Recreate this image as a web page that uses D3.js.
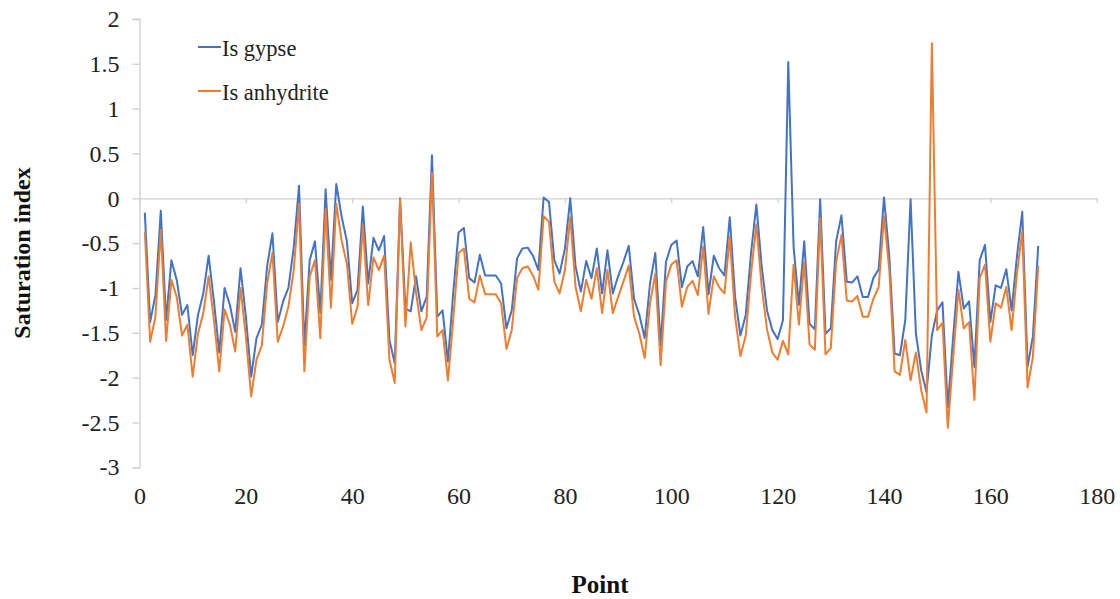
<!DOCTYPE html>
<html>
<head>
<meta charset="utf-8">
<script src="https://cdn.jsdelivr.net/npm/d3@7"></script>
<style>
  html, body { margin: 0; padding: 0; background: #fff; }
  svg { display: block; }
  svg text { font-family: "Liberation Serif", "Times New Roman", "DejaVu Serif", serif !important; }
</style>
</head>
<body>
<svg id="chart" width="1120" height="599"></svg>
<script>
// Sample points 1..169
const points = d3.range(1, 170);

// Saturation index of gypsum
const isGypse = [
  -0.16, -1.38, -1.08, -0.14, -1.36, -0.69, -0.91, -1.30, -1.19, -1.75,
  -1.30, -1.06, -0.64, -1.15, -1.72, -1.00, -1.19, -1.49, -0.78, -1.32,
  -1.99, -1.56, -1.41, -0.76, -0.39, -1.38, -1.15, -1.00, -0.55, 0.14,
  -1.64, -0.69, -0.48, -1.28, 0.10, -0.91, 0.16, -0.20, -0.48, -1.17,
  -1.02, -0.09, -0.95, -0.44, -0.58, -0.42, -1.58, -1.84, 0.00, -1.23,
  -1.26, -0.87, -1.26, -1.10, 0.48, -1.32, -1.25, -1.82, -1.05, -0.38,
  -0.33, -0.89, -0.94, -0.63, -0.86, -0.86, -0.86, -0.95, -1.45, -1.25,
  -0.67, -0.56, -0.55, -0.64, -0.80, 0.01, -0.04, -0.69, -0.84, -0.56,
  0.00, -0.76, -1.04, -0.70, -0.89, -0.56, -1.06, -0.58, -1.06, -0.87,
  -0.71, -0.53, -1.12, -1.30, -1.56, -0.95, -0.61, -1.64, -0.71, -0.52,
  -0.47, -0.99, -0.76, -0.70, -0.87, -0.32, -1.07, -0.64, -0.78, -0.86,
  -0.21, -1.10, -1.53, -1.30, -0.61, -0.07, -0.76, -1.25, -1.47, -1.57,
  -1.36, 1.52, -0.54, -1.19, -0.48, -1.40, -1.46, -0.01, -1.51, -1.45,
  -0.48, -0.19, -0.93, -0.94, -0.87, -1.10, -1.10, -0.89, -0.79, 0.01,
  -0.65, -1.73, -1.75, -1.36, -0.01, -1.51, -1.92, -2.16, -1.53, -1.25,
  -1.16, -2.33, -1.55, -0.82, -1.23, -1.15, -1.88, -0.69, -0.52, -1.38,
  -0.97, -1.00, -0.79, -1.25, -0.65, -0.15, -1.88, -1.54, -0.53
];

// Saturation index of anhydrite
const isAnhydrite = [
  -0.37, -1.60, -1.32, -0.35, -1.59, -0.91, -1.10, -1.53, -1.41, -1.99,
  -1.51, -1.28, -0.87, -1.36, -1.93, -1.24, -1.41, -1.71, -1.00, -1.54,
  -2.21, -1.80, -1.64, -0.95, -0.61, -1.60, -1.43, -1.21, -0.80, -0.06,
  -1.93, -0.87, -0.69, -1.56, -0.12, -1.22, -0.06, -0.47, -0.73, -1.40,
  -1.21, -0.30, -1.19, -0.66, -0.80, -0.64, -1.80, -2.06, -0.01, -1.43,
  -0.49, -1.05, -1.47, -1.33, 0.28, -1.54, -1.47, -2.03, -1.35, -0.61,
  -0.56, -1.12, -1.16, -0.86, -1.07, -1.07, -1.07, -1.17, -1.68, -1.47,
  -0.89, -0.78, -0.76, -0.86, -1.02, -0.20, -0.26, -0.93, -1.06, -0.80,
  -0.21, -0.99, -1.26, -0.91, -1.12, -0.78, -1.28, -0.80, -1.28, -1.10,
  -0.93, -0.75, -1.32, -1.51, -1.78, -1.17, -0.84, -1.86, -0.93, -0.74,
  -0.69, -1.21, -0.99, -0.92, -1.08, -0.54, -1.29, -0.87, -0.99, -1.06,
  -0.43, -1.32, -1.76, -1.53, -0.84, -0.29, -0.99, -1.46, -1.72, -1.80,
  -1.59, -1.74, -0.74, -1.41, -0.71, -1.63, -1.69, -0.22, -1.74, -1.67,
  -0.71, -0.41, -1.14, -1.15, -1.09, -1.32, -1.32, -1.12, -0.99, -0.20,
  -0.80, -1.93, -1.97, -1.58, -2.03, -1.72, -2.14, -2.39, 1.73, -1.47,
  -1.39, -2.56, -1.78, -1.02, -1.45, -1.38, -2.25, -0.89, -0.74, -1.60,
  -1.17, -1.22, -0.99, -1.47, -0.84, -0.37, -2.11, -1.77, -0.75
];

const seriesNames = ["Is gypse", "Is anhydrite"];
const seriesColors = ["#4472C4", "#ED7D31"];
const xTicks = d3.range(0, 181, 20);
const yTicks = d3.range(-3, 2.01, 0.5);

const svg = d3.select("#chart");
const axisColor = "#d0d0d0";
const serif = "'Liberation Serif', 'Times New Roman', 'DejaVu Serif', serif";

const x = d3.scaleLinear().domain([0, 180]).range([139.5, 1096.7]);
const y = d3.scaleLinear().domain([-3, 2]).range([467.3, 19]);

// Vertical value axis with ticks on the left
const yAxis = svg.append("g")
  .attr("transform", `translate(${x(0)},0)`)
  .call(d3.axisLeft(y).tickValues(yTicks).tickSize(7).tickPadding(13)
    .tickFormat(d => String(+d.toFixed(1))));
yAxis.attr("font-family", null).attr("font-size", null);
yAxis.selectAll("path, line").attr("stroke", axisColor).attr("stroke-width", 1.3);
yAxis.selectAll("text").style("font-size", "24px").style("font-family", serif).attr("fill", "#222");

// Horizontal axis line crossing at zero, ticks pointing down
const xLine = svg.append("g")
  .attr("transform", `translate(0,${y(0)})`)
  .call(d3.axisBottom(x).tickValues(xTicks).tickSize(5).tickSizeOuter(0).tickFormat(""));
xLine.selectAll("path, line").attr("stroke", axisColor).attr("stroke-width", 1.3);

// Category labels placed below the plot
const xLabels = svg.append("g")
  .attr("transform", `translate(0,${y(-3)})`)
  .call(d3.axisBottom(x).tickValues(xTicks).tickSize(0).tickPadding(20));
xLabels.attr("font-family", null).attr("font-size", null);
xLabels.select(".domain").remove();
xLabels.selectAll("text").style("font-size", "24px").style("font-family", serif).attr("fill", "#222");

// Series lines
const line = d3.line()
  .x(d => x(d[0]))
  .y(d => y(d[1]));

[isGypse, isAnhydrite].forEach((vals, k) => {
  svg.append("path")
    .datum(points.map((p, i) => [p, vals[i]]))
    .attr("fill", "none")
    .attr("stroke", seriesColors[k])
    .attr("stroke-width", 2)
    .attr("stroke-linejoin", "round")
    .attr("d", line);
});

// Legend
const legend = svg.append("g");
seriesNames.forEach((name, k) => {
  const ly = 47 + k * 44;
  legend.append("line")
    .attr("x1", 198).attr("x2", 221)
    .attr("y1", ly).attr("y2", ly)
    .attr("stroke", seriesColors[k]).attr("stroke-width", 2);
  legend.append("text")
    .attr("x", 222).attr("y", ly + 8.5)
    .style("font-size", "22.5px").style("font-family", serif)
    .attr("fill", "#222")
    .text(name);
});

// Axis titles
svg.append("text")
  .attr("transform", "translate(30,253) rotate(-90)")
  .attr("text-anchor", "middle")
  .style("font-size", "24px").style("font-family", serif)
  .attr("font-weight", "bold").attr("fill", "#111")
  .text("Saturation index");

svg.append("text")
  .attr("x", 600).attr("y", 593)
  .attr("text-anchor", "middle")
  .style("font-size", "25px").style("font-family", serif)
  .attr("font-weight", "bold").attr("fill", "#111")
  .text("Point");
</script>
</body>
</html>
